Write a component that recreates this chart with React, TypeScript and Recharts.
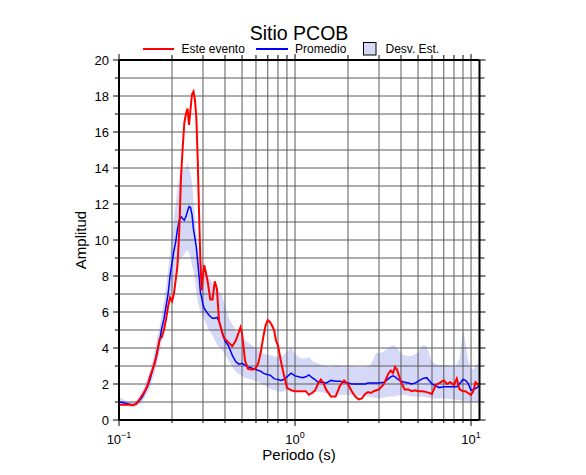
import React from 'react';
import { ComposedChart, Line, Area, XAxis, YAxis, ReferenceLine } from 'recharts';

// ---------- data ----------
const periods = [
  0.1, 0.105, 0.11, 0.115, 0.12, 0.125, 0.13, 0.135, 0.14, 0.145,
  0.15, 0.155, 0.16, 0.165, 0.17, 0.175, 0.18, 0.185, 0.19, 0.195,
  0.2, 0.205, 0.21, 0.215, 0.22, 0.225, 0.23, 0.235, 0.24, 0.245,
  0.25, 0.255, 0.26, 0.265, 0.27, 0.275, 0.28, 0.285, 0.29, 0.295,
  0.3, 0.305, 0.31, 0.32, 0.33, 0.34, 0.35, 0.36, 0.37, 0.38,
  0.39, 0.4, 0.42, 0.44, 0.46, 0.48, 0.49, 0.5, 0.52, 0.54,
  0.56, 0.58, 0.6, 0.62, 0.64, 0.66, 0.68, 0.7, 0.72, 0.74,
  0.76, 0.78, 0.8, 0.83, 0.86, 0.9, 0.95, 1.0, 1.05, 1.1,
  1.15, 1.2, 1.25, 1.3, 1.35, 1.4, 1.45, 1.5, 1.6, 1.7,
  1.8, 1.9, 2.0, 2.1, 2.2, 2.3, 2.4, 2.5, 2.6, 2.7,
  2.8, 2.9, 3.0, 3.2, 3.4, 3.5, 3.6, 3.7, 3.8, 4.0,
  4.2, 4.4, 4.6, 4.8, 5.0, 5.3, 5.6, 6.0, 6.3, 6.6,
  7.0, 7.3, 7.6, 8.0, 8.3, 8.6, 9.0, 9.3, 9.6, 10.0,
  10.3, 10.6, 11.0, 11.1,
];

const esteEvento = [
  0.85, 0.85, 0.85, 0.85, 0.83, 0.9, 1.1, 1.35, 1.6, 1.9,
  2.4, 2.8, 3.2, 3.75, 4.5, 4.6, 5.0, 5.6, 6.3, 6.8,
  6.6, 7.0, 7.8, 8.6, 10.5, 13.5, 15.1, 16.5, 17.0, 17.3,
  16.4, 17.3, 18.1, 18.25, 17.8, 16.8, 14.5, 11.5, 8.8, 7.2,
  8.0, 8.6, 8.3, 7.6, 6.7, 6.7, 7.7, 7.3, 5.5, 5.1,
  4.7, 4.5, 4.3, 4.1, 4.4, 4.9, 5.15, 4.8, 3.3, 2.85,
  2.8, 2.8, 2.9, 3.2, 3.8, 4.6, 5.25, 5.55, 5.45, 5.25,
  5.0, 4.4, 4.15, 3.3, 2.6, 1.8, 1.65, 1.6, 1.6, 1.6,
  1.6, 1.4, 1.5, 1.65, 2.0, 2.25, 2.05, 1.7, 1.3, 1.3,
  1.9, 2.2, 2.0, 1.6, 1.3, 1.15, 1.2, 1.45, 1.55, 1.5,
  1.6, 1.65, 1.7, 2.0, 2.6, 2.75, 2.6, 2.95, 2.8, 2.1,
  1.7, 1.7, 1.6, 1.65, 1.6, 1.6, 1.55, 1.45, 1.95, 2.05,
  2.2, 2.0, 2.1, 1.95, 2.3, 1.7, 1.6, 1.6, 1.5, 1.4,
  1.6, 2.1, 1.95, 2.05,
];

const promedio = [
  1.0, 0.97, 0.92, 0.87, 0.82, 0.9, 1.05, 1.25, 1.55, 1.85,
  2.25, 2.75, 3.25, 3.85, 4.4, 5.1, 5.6, 6.3, 7.0, 8.0,
  8.7, 9.4, 9.9, 10.6, 11.1, 11.3, 11.2, 11.1, 11.3, 11.6,
  11.85, 11.8, 11.4, 10.6, 10.1, 9.6, 8.8, 8.0, 7.1, 6.8,
  6.4, 6.2, 6.1, 5.9, 5.75, 5.65, 5.65, 5.7, 5.5, 5.1,
  4.7, 4.4, 4.1, 3.6, 3.25, 3.1, 3.12, 3.15, 3.05, 2.95,
  2.9, 2.85, 2.8, 2.75, 2.7, 2.6, 2.55, 2.52, 2.5, 2.4,
  2.3, 2.27, 2.25, 2.2, 2.25, 2.4, 2.6, 2.45, 2.4, 2.35,
  2.4, 2.5, 2.35, 2.25, 2.1, 2.1, 2.1, 2.05, 2.2, 2.15,
  2.15, 2.1, 2.05, 2.0, 2.0, 2.0, 2.0, 2.0, 2.05, 2.05,
  2.05, 2.05, 2.05, 2.1, 2.3, 2.4, 2.45, 2.4, 2.3, 2.15,
  2.1, 2.05, 2.0, 2.05, 2.15, 2.3, 2.35, 2.0, 1.9, 1.8,
  1.85, 1.85, 1.85, 1.85, 1.85, 2.0, 2.25, 2.2, 2.05, 1.65,
  1.7, 1.75, 1.85, 1.85,
];

const desvSup = [
  1.3, 1.15, 1.05, 1.0, 1.0, 1.1, 1.3, 1.6, 1.9, 2.3,
  2.7, 3.3, 3.9, 4.6, 5.1, 5.9, 6.6, 7.4, 8.3, 9.3,
  10.3, 11.2, 12.0, 12.9, 13.4, 13.9, 13.9, 13.9, 14.0, 14.3,
  14.0, 13.7, 13.2, 12.2, 11.3, 10.4, 9.6, 9.2, 8.9, 8.8,
  8.6, 8.45, 8.3, 8.0, 7.8, 7.6, 7.4, 7.25, 7.1, 7.0,
  6.7, 6.4, 5.7, 5.3, 5.0, 4.75, 4.7, 4.6, 4.45, 4.3,
  4.2, 4.1, 4.0, 3.9, 3.75, 3.7, 3.65, 3.62, 3.6, 3.57,
  3.55, 3.52, 3.5, 3.55, 3.6, 3.8, 4.0, 3.7, 3.5, 3.4,
  3.45, 3.5, 3.3, 3.2, 3.15, 3.05, 3.05, 3.0, 2.95, 3.05,
  3.0, 2.95, 3.05, 3.0, 2.95, 2.95, 2.95, 2.95, 3.0, 3.1,
  3.45, 3.75, 3.7, 3.8, 4.0, 4.1, 4.15, 4.1, 4.0, 3.7,
  3.6, 3.55, 3.55, 3.65, 3.75, 4.15, 4.1, 3.25, 3.1, 3.05,
  3.05, 3.05, 3.0, 2.95, 3.1, 3.4, 5.0, 4.3, 3.4, 2.8,
  2.85, 3.0, 3.15, 3.15,
];

const desvInf = [
  0.8, 0.8, 0.78, 0.75, 0.7, 0.75, 0.85, 1.0, 1.25, 1.5,
  1.85, 2.25, 2.7, 3.2, 3.8, 4.4, 4.9, 5.4, 6.0, 6.6,
  7.2, 7.8, 8.3, 8.7, 8.9, 9.0, 9.1, 9.2, 9.4, 9.4,
  9.3, 9.0, 8.6, 8.3, 7.8, 7.1, 6.6, 6.3, 6.1, 5.9,
  5.75, 5.6, 5.4, 5.1, 4.9, 4.7, 4.45, 4.2, 4.05, 3.95,
  3.8, 3.6, 3.3, 2.95, 2.7, 2.55, 2.5, 2.45, 2.35, 2.3,
  2.25, 2.2, 2.15, 2.1, 2.05, 1.95, 1.9, 1.82, 1.75, 1.7,
  1.65, 1.62, 1.6, 1.55, 1.6, 1.65, 1.7, 1.7, 1.65, 1.6,
  1.55, 1.5, 1.5, 1.55, 1.55, 1.55, 1.52, 1.5, 1.45, 1.4,
  1.4, 1.4, 1.4, 1.38, 1.35, 1.35, 1.35, 1.33, 1.3, 1.28,
  1.25, 1.2, 1.2, 1.25, 1.3, 1.3, 1.3, 1.32, 1.35, 1.4,
  1.4, 1.35, 1.3, 1.3, 1.3, 1.3, 1.25, 1.2, 1.2, 1.2,
  1.2, 1.18, 1.15, 1.15, 1.1, 1.1, 1.05, 1.05, 1.0, 1.0,
  1.0, 1.0, 1.0, 1.0,
];

// tick / grid values
const xAxisTicks = [0.1, 0.2, 0.3, 0.4, 0.5, 0.6, 0.7, 0.8, 0.9, 1, 2, 3, 4, 5, 6, 7, 8, 9, 10];
const xGridValues = [0.2, 0.3, 0.4, 0.5, 0.6, 0.7, 0.8, 0.9, 1, 2, 3, 4, 5, 6, 7, 8, 9, 10];
const xLabelTicks = [0.1, 1, 10];
const xLabelExponents = ['\u22121', '0', '1'];
const yTicks = [0, 1, 2, 3, 4, 5, 6, 7, 8, 9, 10, 11, 12, 13, 14, 15, 16, 17, 18, 19, 20];
const yGridValues = [1, 2, 3, 4, 5, 6, 7, 8, 9, 10, 11, 12, 13, 14, 15, 16, 17, 18, 19];
const yLabelTicks = [0, 2, 4, 6, 8, 10, 12, 14, 16, 18, 20];

const chartTitle = 'Sitio PCOB';
const legendLabels = ['Este evento', 'Promedio', 'Desv. Est.'];
const xTitle = 'Periodo (s)';
const yTitle = 'Amplitud';

const data = periods.map((p, i) => ({
  p,
  este: esteEvento[i],
  prom: promedio[i],
  band: [desvInf[i], desvSup[i]],
}));

// ---------- styling ----------
const FONT = '"Liberation Sans", Arial, Helvetica, sans-serif';
const BAND = '#d6d8f8';
const GRID = '#5a5a5a';

const near = (a: number, b: number) => Math.abs(a - b) < 1e-9;

const BottomTick = (props: any) => {
  const { x, y, payload } = props;
  const i = xLabelTicks.findIndex((t) => near(t, payload.value));
  const len = i >= 0 ? 6 : 3;
  return (
    <g>
      <line x1={x} y1={y} x2={x} y2={y + len} stroke="#000" strokeWidth={1} />
      {i >= 0 && (
        <text x={x} y={y + 23.5} textAnchor="middle" fontFamily={FONT} fontSize={13} fill="#000">
          <tspan>10</tspan>
          <tspan fontSize={9} dy={-6}>{xLabelExponents[i]}</tspan>
        </text>
      )}
    </g>
  );
};

const TopTick = (props: any) => {
  const { x, y, payload } = props;
  const major = xLabelTicks.some((t) => near(t, payload.value));
  const len = major ? 6 : 5;
  return <line x1={x} y1={y} x2={x} y2={y - len} stroke="#000" strokeWidth={1} />;
};

const LeftTick = (props: any) => {
  const { x, y, payload } = props;
  const major = yLabelTicks.includes(payload.value);
  const len = major ? 6 : 4;
  return (
    <g>
      <line x1={x - len} y1={y} x2={x} y2={y} stroke="#000" strokeWidth={1} />
      {major && (
        <text x={x - 10} y={y + 4.7} textAnchor="end" fontFamily={FONT} fontSize={13} fill="#000">
          {payload.value}
        </text>
      )}
    </g>
  );
};

const RightTick = (props: any) => {
  const { x, y, payload } = props;
  const major = yLabelTicks.includes(payload.value);
  const len = major ? 6 : 5;
  return <line x1={x} y1={y} x2={x + len} y2={y} stroke="#000" strokeWidth={1} />;
};

const frameLine = { stroke: '#000', strokeWidth: 2 };

export default function App() {
  return (
    <div style={{ position: 'absolute', left: 0, top: 0, width: 586, height: 475, background: '#fff' }}>
      <ComposedChart
        width={586}
        height={475}
        data={data}
        margin={{ top: 50, right: 96.5, bottom: 15, left: 69 }}
      >
        <XAxis
          dataKey="p"
          type="number"
          scale="log"
          domain={[0.1, 11.17]}
          allowDataOverflow
          ticks={xAxisTicks}
          interval={0}
          tick={<BottomTick />}
          tickLine={false}
          tickSize={0}
          tickMargin={0}
          axisLine={frameLine}
          height={40}
        />
        <XAxis
          xAxisId="top"
          orientation="top"
          dataKey="p"
          type="number"
          scale="log"
          domain={[0.1, 11.17]}
          allowDataOverflow
          ticks={xAxisTicks}
          interval={0}
          tick={<TopTick />}
          tickLine={false}
          tickSize={0}
          tickMargin={0}
          axisLine={frameLine}
          height={10}
        />
        <YAxis
          type="number"
          domain={[0, 20]}
          allowDataOverflow
          ticks={yTicks}
          interval={0}
          tick={<LeftTick />}
          tickLine={false}
          tickSize={0}
          tickMargin={0}
          axisLine={frameLine}
          width={50}
        />
        <YAxis
          yAxisId="right"
          orientation="right"
          type="number"
          domain={[0, 20]}
          allowDataOverflow
          ticks={yTicks}
          interval={0}
          tick={<RightTick />}
          tickLine={false}
          tickSize={0}
          tickMargin={0}
          axisLine={frameLine}
          width={10}
        />
        <Area
          type="linear"
          dataKey="band"
          stroke="none"
          fill={BAND}
          fillOpacity={1}
          isAnimationActive={false}
          activeDot={false}
        />
        {yGridValues.map((v) => (
          <ReferenceLine key={'gy' + v} y={v} stroke={GRID} strokeWidth={1} />
        ))}
        {xGridValues.map((v) => (
          <ReferenceLine key={'gx' + v} x={v} stroke={GRID} strokeWidth={1} />
        ))}
        <Line
          type="linear"
          dataKey="prom"
          stroke="#0000ff"
          strokeWidth={1.5}
          dot={false}
          activeDot={false}
          isAnimationActive={false}
        />
        <Line
          type="linear"
          dataKey="este"
          stroke="#ff0000"
          strokeWidth={2}
          dot={false}
          activeDot={false}
          isAnimationActive={false}
        />
      </ComposedChart>
      <svg
        width={586}
        height={475}
        style={{ position: 'absolute', left: 0, top: 0, pointerEvents: 'none' }}
      >
        <text x={299} y={39.5} textAnchor="middle" fontFamily={FONT} fontSize={19.5} fill="#000">
          {chartTitle}
        </text>
        <line x1={143} y1={49} x2={174} y2={49} stroke="#ff0000" strokeWidth={2} />
        <text x={181.5} y={53} fontFamily={FONT} fontSize={12} fill="#000">{legendLabels[0]}</text>
        <line x1={256} y1={49} x2={288} y2={49} stroke="#0000ff" strokeWidth={2} />
        <text x={295} y={53} fontFamily={FONT} fontSize={12} fill="#000">{legendLabels[1]}</text>
        <rect x={363.5} y={42.5} width={12.5} height={12.5} fill={BAND} stroke="#000" strokeWidth={1} />
        <text x={385.5} y={53} fontFamily={FONT} fontSize={12} fill="#000">{legendLabels[2]}</text>
        <text x={299} y={460} textAnchor="middle" fontFamily={FONT} fontSize={15} fill="#000">
          {xTitle}
        </text>
        <text
          x={0}
          y={0}
          transform="translate(86,240) rotate(-90)"
          textAnchor="middle"
          fontFamily={FONT}
          fontSize={15}
          fill="#000"
        >
          {yTitle}
        </text>
      </svg>
    </div>
  );
}
